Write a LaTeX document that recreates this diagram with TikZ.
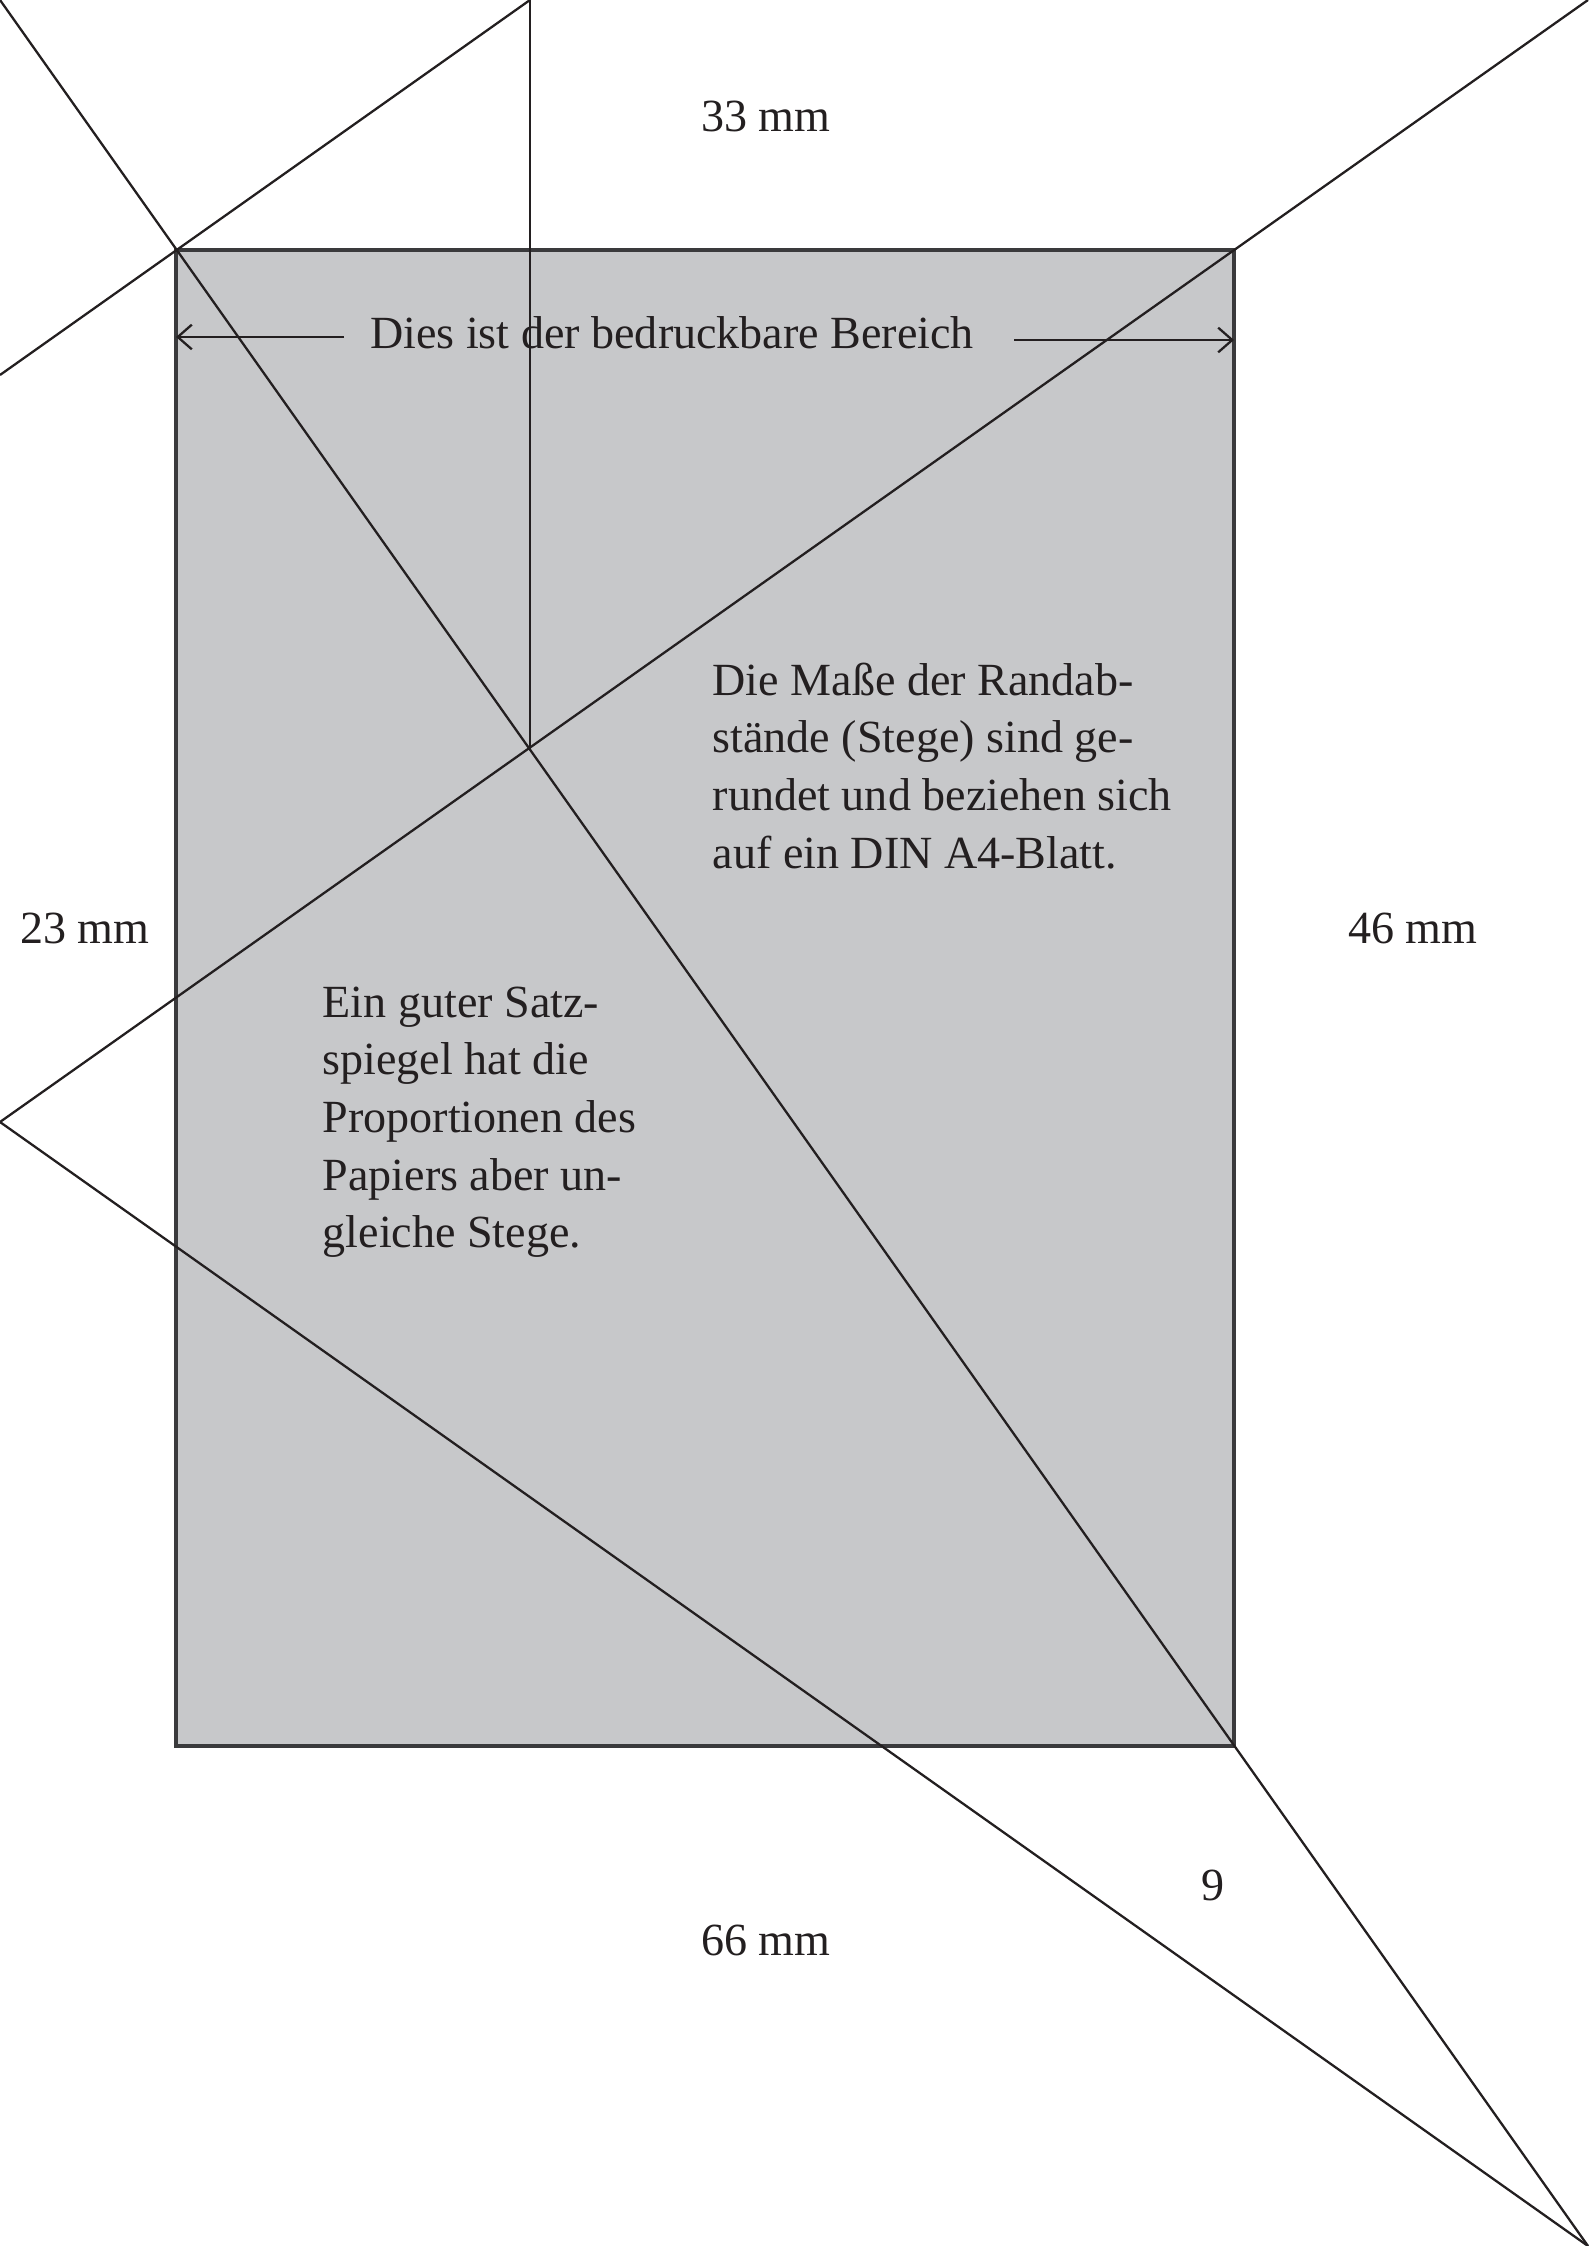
\documentclass[tikz,border=0pt]{standalone}
\usepackage{fontspec}
\setmainfont{Liberation Serif}
\usetikzlibrary{arrows.meta}
\definecolor{ink}{HTML}{231F20}
\definecolor{paper}{HTML}{C7C8CA}
\definecolor{frame}{HTML}{3A3A3C}
\begin{document}
\begin{tikzpicture}[x=0.01cm,y=-0.01cm,
  guide/.style={draw=ink,line width=0.65pt},
  lbl/.style={inner sep=0pt,anchor=base,text=ink,font=\fontsize{13.1}{16.4}\selectfont},
  blocktext/.style={inner sep=0pt,anchor=base west,text=ink,font=\fontsize{13.1}{16.4}\selectfont},
  dimarrow/.style={draw=ink,line width=0.65pt,-{Straight Barb[length=4pt,width=7pt]}}]
\useasboundingbox (0,0) rectangle (1588,2246);
% named points
\coordinate (P0) at (0,0);
\coordinate (P1) at (1588,2246);
\coordinate (Q0) at (1588,0);
\coordinate (Q1) at (0,1122);
\coordinate (V0) at (530,0);
\coordinate (C) at (530,749);
\coordinate (L0) at (0,375);
\coordinate (A) at (176,250);
\coordinate (B) at (1234,1746);
% printable area
\path[fill=paper,draw=frame,line width=0.9pt] (A) rectangle (B);
% construction lines
\draw[guide] (P0) -- (P1);
\draw[guide] (Q0) -- (Q1);
\draw[guide] (V0) -- (C);
\draw[guide] (V0) -- (L0);
\draw[guide] (Q1) -- (P1);
% arrow label
\node[lbl] (area) at (672,349) {Dies ist der bedruckbare Bereich};
\coordinate (al) at (344,337);
\coordinate (alt) at (176,337);
\coordinate (ar) at (1014,340);
\coordinate (art) at (1234,340);
\draw[dimarrow] (al) -- (alt);
\draw[dimarrow] (ar) -- (art);
% margin labels
\node[lbl] (top) at (766,132) {33 mm};
\node[lbl] (left) at (85,943) {23 mm};
\node[lbl] (right) at (1413,943) {46 mm};
\node[lbl] (bottom) at (766,1955) {66 mm};
\node[lbl] (nine) at (1213,1900) {9};
% text blocks
\node[blocktext] (t1) at (712,695) {\parbox[t]{7cm}{\raggedright Die Maße der Randab-\\ stände (Stege) sind ge-\\ rundet und beziehen sich\\ auf ein DIN A4-Blatt.}};
\node[blocktext] (t2) at (322,1017) {\parbox[t]{6cm}{\raggedright Ein guter Satz-\\ spiegel hat die\\ Proportionen des\\ Papiers aber un-\\ gleiche Stege.}};
\end{tikzpicture}
\end{document}
